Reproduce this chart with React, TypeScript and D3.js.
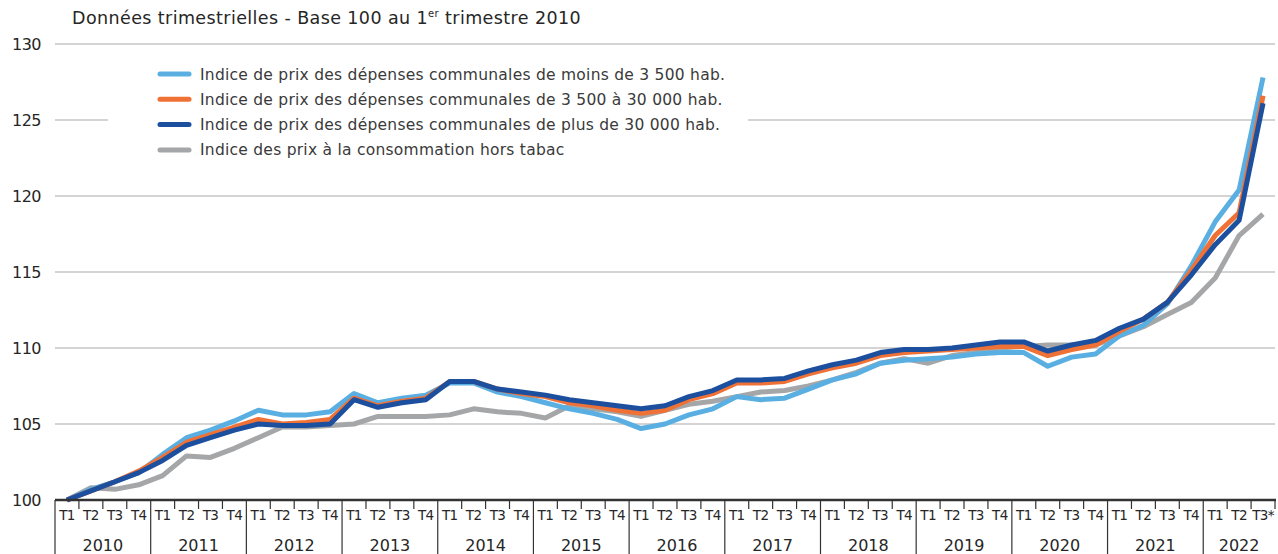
import React, { useEffect, useRef } from 'react';
import * as d3 from 'd3';

// years and quarters on the x axis
const years = ['2010', '2011', '2012', '2013', '2014', '2015', '2016', '2017', '2018', '2019', '2020', '2021', '2022'];
const quarterLabels = ['T1', 'T2', 'T3', 'T4'];
const lastYearQuarters = ['T1', 'T2', 'T3*'];

const yTicks = [100, 105, 110, 115, 120, 125, 130];

// values, base 100 at 2010 T1
const smallCommunes = [
  100, 100.7, 101.2, 101.8, 103.0, 104.1, 104.6, 105.2,
  105.9, 105.6, 105.6, 105.8, 107.0, 106.4, 106.7, 106.9,
  107.7, 107.7, 107.1, 106.8, 106.4, 106.0, 105.7, 105.3,
  104.7, 105.0, 105.6, 106.0, 106.8, 106.6, 106.7, 107.3,
  107.9, 108.3, 109.0, 109.2, 109.3, 109.4, 109.6, 109.7,
  109.7, 108.8, 109.4, 109.6, 110.8, 111.5, 112.9, 115.4,
  118.3, 120.4, 127.8,
];
const mediumCommunes = [
  100, 100.6, 101.2, 101.9, 102.8, 103.8, 104.3, 104.8,
  105.3, 105.0, 105.1, 105.3, 106.7, 106.2, 106.5, 106.7,
  107.8, 107.8, 107.3, 107.0, 106.8, 106.4, 106.2, 105.9,
  105.7, 105.9, 106.6, 107.0, 107.7, 107.7, 107.8, 108.3,
  108.7, 109.0, 109.5, 109.7, 109.8, 109.9, 110.0, 110.1,
  110.1, 109.5, 109.9, 110.2, 111.1, 111.9, 113.0, 115.1,
  117.4, 118.9, 126.6,
];
const largeCommunes = [
  100, 100.6, 101.2, 101.8, 102.6, 103.6, 104.1, 104.6,
  105.0, 104.9, 104.9, 105.0, 106.6, 106.1, 106.4, 106.6,
  107.8, 107.8, 107.3, 107.1, 106.9, 106.6, 106.4, 106.2,
  106.0, 106.2, 106.8, 107.2, 107.9, 107.9, 108.0, 108.5,
  108.9, 109.2, 109.7, 109.9, 109.9, 110.0, 110.2, 110.4,
  110.4, 109.8, 110.2, 110.5, 111.3, 111.9, 113.0, 114.8,
  116.8, 118.4, 126.1,
];
const cpi = [
  100, 100.8, 100.7, 101.0, 101.6, 102.9, 102.8, 103.4,
  104.1, 104.8, 104.8, 104.9, 105.0, 105.5, 105.5, 105.5,
  105.6, 106.0, 105.8, 105.7, 105.4, 106.2, 106.0, 105.8,
  105.5, 105.9, 106.3, 106.5, 106.8, 107.1, 107.2, 107.5,
  107.9, 108.4, 109.0, 109.3, 109.0, 109.5, 109.7, 110.0,
  110.1, 110.2, 110.2, 110.2, 110.8, 111.4, 112.2, 113.0,
  114.6, 117.4, 118.8,
];

const series = [
  { name: 'Indice des prix à la consommation hors tabac', values: cpi, color: '#a5a6a8' },
  { name: 'Indice de prix des dépenses communales de moins de 3 500 hab.', values: smallCommunes, color: '#5aafe2' },
  { name: 'Indice de prix des dépenses communales de 3 500 à 30 000 hab.', values: mediumCommunes, color: '#ef7136' },
  { name: 'Indice de prix des dépenses communales de plus de 30 000 hab.', values: largeCommunes, color: '#1d4f9f' },
];
const legendOrder = [1, 2, 3, 0];

const W = 1278;
const H = 554;
const FONT = '"DejaVu Sans", sans-serif';
const INK = '#262626';

export default function App() {
  const ref = useRef<SVGSVGElement>(null);

  useEffect(() => {
    const svg = d3.select(ref.current);
    svg.selectAll('*').remove();

    const quarters: { id: string; label: string; year: string }[] = [];
    years.forEach((yr) => {
      const qs = yr === '2022' ? lastYearQuarters : quarterLabels;
      qs.forEach((q) => quarters.push({ id: yr + q, label: q, year: yr }));
    });

    const x = d3.scaleBand().domain(quarters.map((q) => q.id)).range([55, 1275]);
    const bw = x.bandwidth();
    const y = d3.scaleLinear().domain([100, 130]).range([500, 44]);

    // grid
    const grid = svg.append('g');
    grid.selectAll('line')
      .data(yTicks.filter((t) => t > 100))
      .enter()
      .append('line')
      .attr('x1', 55)
      .attr('x2', 1275)
      .attr('y1', (d) => y(d))
      .attr('y2', (d) => y(d))
      .attr('stroke', '#c6c6c6')
      .attr('stroke-width', 1.5);

    svg.append('g')
      .selectAll('text')
      .data(yTicks)
      .enter()
      .append('text')
      .attr('x', 41)
      .attr('y', (d) => y(d) + 5.5)
      .attr('text-anchor', 'end')
      .attr('font-family', FONT)
      .attr('font-size', 16)
      .attr('letter-spacing', -0.5)
      .attr('fill', INK)
      .text((d) => d);

    // legend box hides the grid underneath
    svg.append('rect')
      .attr('x', 108).attr('y', 58)
      .attr('width', 640).attr('height', 124)
      .attr('fill', '#fff');

    // lines
    const line = d3.line<number>()
      .x((d, i) => (x(quarters[i].id) as number) + bw / 2)
      .y((d) => y(d));

    svg.append('g')
      .selectAll('path')
      .data(series)
      .enter()
      .append('path')
      .attr('d', (s) => line(s.values))
      .attr('fill', 'none')
      .attr('stroke', (s) => s.color)
      .attr('stroke-width', 5)
      .attr('stroke-linejoin', 'round');

    // legend
    const leg = svg.append('g');
    legendOrder.forEach((idx, i) => {
      const s = series[idx];
      const ly = 74 + i * 25.3;
      leg.append('line')
        .attr('x1', 160).attr('x2', 189)
        .attr('y1', ly).attr('y2', ly)
        .attr('stroke', s.color)
        .attr('stroke-width', 5)
        .attr('stroke-linecap', 'round');
      leg.append('text')
        .attr('x', 200).attr('y', ly + 5.5)
        .attr('font-family', FONT)
        .attr('font-size', 15.5)
        .attr('letter-spacing', 0.25)
        .attr('fill', '#3a3a3a')
        .text(s.name);
    });

    // x axis table
    const ax = svg.append('g').attr('stroke', '#333');
    ax.append('line')
      .attr('x1', 55).attr('x2', 1276)
      .attr('y1', 500).attr('y2', 500)
      .attr('stroke-width', 2.5);

    ax.selectAll('line.q')
      .data(quarters)
      .enter()
      .append('line')
      .attr('class', 'q')
      .attr('x1', (q) => x(q.id) as number)
      .attr('x2', (q) => x(q.id) as number)
      .attr('y1', 500)
      .attr('y2', (q) => (q.label === 'T1' ? H : 509))
      .attr('stroke-width', 1.2);

    ax.append('line')
      .attr('x1', 1275).attr('x2', 1275)
      .attr('y1', 500).attr('y2', 509)
      .attr('stroke-width', 1.2);

    svg.append('g')
      .selectAll('text')
      .data(quarters)
      .enter()
      .append('text')
      .attr('x', (q) => (x(q.id) as number) + bw / 2)
      .attr('y', 520)
      .attr('text-anchor', 'middle')
      .attr('font-family', FONT)
      .attr('font-size', 13.5)
      .attr('letter-spacing', -0.6)
      .attr('fill', INK)
      .text((q) => q.label);

    svg.append('g')
      .selectAll('text')
      .data(years)
      .enter()
      .append('text')
      .attr('x', (yr) => {
        const qs = quarters.filter((q) => q.year === yr);
        const a = x(qs[0].id) as number;
        const b = (x(qs[qs.length - 1].id) as number) + bw;
        return (a + b) / 2;
      })
      .attr('y', 551)
      .attr('text-anchor', 'middle')
      .attr('font-family', FONT)
      .attr('font-size', 16)
      .attr('fill', INK)
      .text((yr) => yr);

    // title
    const title = svg.append('text')
      .attr('x', 72).attr('y', 24)
      .attr('font-family', FONT)
      .attr('font-size', 17.5)
      .attr('letter-spacing', 0.4)
      .attr('fill', INK);
    title.append('tspan').text('Données trimestrielles - Base 100 au 1');
    title.append('tspan').attr('dy', -7).attr('font-size', 10).text('er');
    title.append('tspan').attr('dy', 7).text(' trimestre 2010');
  }, []);

  return (
    <svg
      ref={ref}
      width={W}
      height={H}
      style={{ position: 'absolute', left: 0, top: 0, background: '#fff' }}
    />
  );
}
